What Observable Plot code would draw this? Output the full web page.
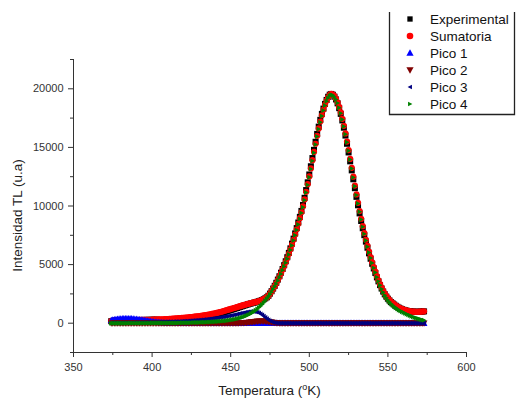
<!DOCTYPE html>
<html>
<head>
<meta charset="utf-8">
<script src="https://cdn.jsdelivr.net/npm/d3@7"></script>
<script src="https://cdn.jsdelivr.net/npm/@observablehq/plot@0.6"></script>
<style>
  html, body { margin: 0; padding: 0; background: #fff; }
  #chart { position: relative; width: 516px; height: 398px; }
</style>
</head>
<body>
<div id="chart"></div>
<script>
// ---- Data (temperature grid 374..573 K, 1 K step) ----
const temps = d3.range(374, 574);

const xMajor = [350, 400, 450, 500, 550, 600];
const xMinor = [375, 425, 475, 525, 575];
const yMajor = [0, 5000, 10000, 15000, 20000];
const yMinor = [-2500, 2500, 7500, 12500, 17500, 22500];

const seriesNames = ["Experimental", "Sumatoria", "Pico 1", "Pico 2", "Pico 3", "Pico 4"];
const seriesColors = ["#000000", "#ff0000", "#0000ff", "#800000", "#000080", "#008000"];

const experimental = [
  170, 195, 220, 230, 238, 245, 248, 252, 256, 258,
  258, 260, 262, 264, 266, 268, 270, 272, 273, 275,
  276, 278, 280, 282, 284, 286, 289, 292, 295, 298,
  250, 255, 260, 265, 270, 276, 282, 289, 296, 304,
  312, 321, 330, 340, 350, 361, 372, 384, 397, 410,
  424, 438, 453, 469, 485, 502, 520, 539, 559, 580,
  602, 625, 649, 674, 700, 727, 755, 785, 817, 850,
  886, 924, 964, 1005, 1046, 1088, 1130, 1172, 1215, 1258,
  1300, 1345, 1390, 1435, 1480, 1525, 1568, 1610, 1650, 1688,
  1725, 1760, 1796, 1834, 1876, 1924, 1980, 2045, 2120, 2210,
  2340, 2525, 2730, 2955, 3190, 3445, 3720, 4005, 4310, 4625,
  4950, 5285, 5630, 6000, 6385, 6790, 7215, 7660, 8115, 8590,
  9075, 9580, 10090, 10700, 11360, 12020, 12690, 13390, 14090, 14790,
  15480, 16150, 16770, 17350, 17860, 18310, 18710, 19050, 19320, 19500,
  19560, 19490, 19330, 19090, 18760, 18350, 17860, 17300, 16680, 16010,
  15310, 14570, 13810, 13040, 12280, 11520, 10780, 10060, 9370, 8720,
  8100, 7510, 6960, 6440, 5960, 5500, 5070, 4670, 4290, 3910,
  3570, 3250, 2960, 2700, 2470, 2270, 2090, 1940, 1800, 1690,
  1590, 1490, 1400, 1320, 1250, 1190, 1140, 1100, 1065, 1038,
  1015, 998, 986, 978, 973, 974, 979, 988, 998, 1008
];

const sumatoria = [
  180, 200, 215, 225, 235, 240, 245, 250, 255, 258,
  260, 262, 264, 266, 268, 270, 272, 274, 276, 278,
  280, 283, 286, 289, 292, 296, 300, 305, 310, 315,
  320, 326, 332, 338, 345, 352, 360, 368, 376, 385,
  394, 404, 414, 425, 436, 448, 460, 473, 486, 500,
  514, 529, 544, 560, 576, 593, 611, 630, 650, 671,
  693, 716, 740, 765, 791, 818, 846, 876, 908, 942,
  978, 1016, 1055, 1095, 1135, 1175, 1215, 1255, 1295, 1335,
  1375, 1415, 1455, 1495, 1535, 1575, 1612, 1648, 1682, 1715,
  1748, 1780, 1812, 1848, 1888, 1935, 1990, 2055, 2130, 2220,
  2330, 2510, 2710, 2930, 3160, 3410, 3680, 3960, 4260, 4570,
  4890, 5220, 5560, 5920, 6300, 6700, 7120, 7560, 8010, 8480,
  8960, 9460, 9960, 10560, 11210, 11860, 12520, 13210, 13910, 14610,
  15310, 15990, 16620, 17210, 17740, 18210, 18630, 18990, 19280, 19480,
  19560, 19510, 19370, 19150, 18840, 18450, 17980, 17440, 16840, 16190,
  15500, 14770, 14020, 13260, 12500, 11740, 10990, 10270, 9570, 8910,
  8280, 7680, 7120, 6590, 6100, 5630, 5190, 4780, 4400, 4010,
  3660, 3330, 3030, 2760, 2520, 2310, 2130, 1970, 1830, 1710,
  1600, 1500, 1410, 1330, 1260, 1200, 1150, 1110, 1075, 1045,
  1020, 1000, 990, 980, 975, 975, 980, 990, 1000, 1010
];

const pico1 = [
  250, 280, 305, 328, 347, 363, 376, 386, 393, 397,
  398, 396, 391, 383, 372, 358, 342, 324, 304, 283,
  261, 239, 217, 195, 174, 154, 135, 118, 102, 88,
  75, 64, 54, 45, 38, 32, 26, 22, 18, 15,
  12, 10, 8, 7, 5, 4, 4, 3, 2, 2,
  1, 1, 1, 1, 1, 0, 0, 0, 0, 0,
  0, 0, 0, 0, 0, 0, 0, 0, 0, 0,
  0, 0, 0, 0, 0, 0, 0, 0, 0, 0,
  0, 0, 0, 0, 0, 0, 0, 0, 0, 0,
  0, 0, 0, 0, 0, 0, 0, 0, 0, 0,
  0, 0, 0, 0, 0, 0, 0, 0, 0, 0,
  0, 0, 0, 0, 0, 0, 0, 0, 0, 0,
  0, 0, 0, 0, 0, 0, 0, 0, 0, 0,
  0, 0, 0, 0, 0, 0, 0, 0, 0, 0,
  0, 0, 0, 0, 0, 0, 0, 0, 0, 0,
  0, 0, 0, 0, 0, 0, 0, 0, 0, 0,
  0, 0, 0, 0, 0, 0, 0, 0, 0, 0,
  0, 0, 0, 0, 0, 0, 0, 0, 0, 0,
  0, 0, 0, 0, 0, 0, 0, 0, 0, 0,
  0, 0, 0, 0, 0, 0, 0, 0, 0, 0
];

const pico2 = [
  0, 0, 0, 0, 0, 0, 0, 0, 0, 0,
  0, 0, 0, 0, 0, 0, 0, 0, 0, 0,
  0, 0, 0, 0, 0, 0, 0, 0, 0, 0,
  0, 0, 0, 0, 0, 0, 0, 0, 0, 0,
  0, 0, 0, 0, 0, 0, 0, 0, 0, 0,
  0, 0, 0, 0, 0, 0, 0, 0, 0, 0,
  0, 0, 0, 0, 0, 0, 0, 0, 0, 0,
  0, 0, 0, 0, 0, 0, 0, 0, 0, 0,
  0, 10, 15, 22, 30, 40, 52, 66, 82, 99,
  116, 132, 147, 160, 170, 176, 178, 175, 167, 154,
  137, 116, 93, 70, 49, 31, 17, 8, 3, 1,
  0, 0, 0, 0, 0, 0, 0, 0, 0, 0,
  0, 0, 0, 0, 0, 0, 0, 0, 0, 0,
  0, 0, 0, 0, 0, 0, 0, 0, 0, 0,
  0, 0, 0, 0, 0, 0, 0, 0, 0, 0,
  0, 0, 0, 0, 0, 0, 0, 0, 0, 0,
  0, 0, 0, 0, 0, 0, 0, 0, 0, 0,
  0, 0, 0, 0, 0, 0, 0, 0, 0, 0,
  0, 0, 0, 0, 0, 0, 0, 0, 0, 0,
  0, 0, 0, 0, 0, 0, 0, 0, 0, 0
];

const pico3 = [
  20, 21, 22, 23, 24, 25, 26, 27, 28, 30,
  31, 33, 34, 36, 38, 40, 42, 44, 46, 49,
  51, 54, 57, 60, 63, 66, 69, 72, 75, 78,
  81, 84, 88, 92, 96, 100, 105, 110, 115, 120,
  126, 132, 138, 145, 152, 159, 167, 175, 183, 192,
  201, 211, 221, 232, 243, 255, 267, 280, 293, 307,
  321, 336, 352, 368, 385, 402, 420, 439, 458, 478,
  500, 523, 547, 572, 598, 624, 651, 678, 706, 734,
  765, 797, 829, 860, 890, 918, 944, 966, 984, 996,
  1000, 993, 972, 935, 880, 805, 712, 605, 492, 382,
  282, 197, 130, 81, 48, 27, 14, 7, 3, 1,
  0, 0, 0, 0, 0, 0, 0, 0, 0, 0,
  0, 0, 0, 0, 0, 0, 0, 0, 0, 0,
  0, 0, 0, 0, 0, 0, 0, 0, 0, 0,
  0, 0, 0, 0, 0, 0, 0, 0, 0, 0,
  0, 0, 0, 0, 0, 0, 0, 0, 0, 0,
  0, 0, 0, 0, 0, 0, 0, 0, 0, 0,
  0, 0, 0, 0, 0, 0, 0, 0, 0, 0,
  0, 0, 0, 0, 0, 0, 0, 0, 0, 0,
  0, 0, 0, 0, 0, 0, 0, 0, 0, 0
];

const pico4 = [
  2, 2, 2, 2, 2, 2, 3, 3, 3, 3,
  3, 4, 4, 4, 4, 5, 5, 5, 5, 6,
  6, 6, 7, 7, 8, 8, 9, 9, 10, 10,
  11, 12, 13, 14, 15, 16, 17, 18, 19, 21,
  22, 24, 25, 27, 29, 31, 33, 36, 38, 41,
  44, 47, 50, 54, 58, 62, 66, 71, 76, 81,
  87, 93, 99, 106, 113, 121, 129, 138, 148, 159,
  171, 184, 198, 213, 230, 248, 268, 290, 315, 342,
  372, 405, 440, 480, 525, 575, 630, 690, 755, 830,
  910, 1000, 1100, 1210, 1330, 1460, 1600, 1750, 1910, 2080,
  2260, 2450, 2650, 2870, 3100, 3350, 3620, 3900, 4200, 4510,
  4830, 5160, 5500, 5860, 6240, 6640, 7060, 7500, 7950, 8420,
  8900, 9400, 9900, 10500, 11150, 11800, 12460, 13150, 13850, 14550,
  15250, 15930, 16560, 17150, 17680, 18150, 18570, 18930, 19220, 19420,
  19500, 19450, 19310, 19090, 18780, 18390, 17920, 17380, 16780, 16130,
  15440, 14710, 13960, 13200, 12440, 11680, 10930, 10210, 9510, 8850,
  8220, 7620, 7060, 6530, 6040, 5570, 5130, 4720, 4330, 3930,
  3570, 3230, 2920, 2640, 2390, 2170, 1980, 1810, 1670, 1540,
  1420, 1320, 1220, 1130, 1050, 975, 905, 840, 775, 712,
  652, 595, 540, 488, 440, 395, 353, 314, 278, 245
];

// ---- Custom marker symbols (d3 symbol-type objects) ----
const triUp = {draw(ctx, size) { const a = Math.sqrt(size / Math.PI);
  ctx.moveTo(0, -a); ctx.lineTo(a * 0.95, a * 0.75); ctx.lineTo(-a * 0.95, a * 0.75); ctx.closePath(); }};
const triDown = {draw(ctx, size) { const a = Math.sqrt(size / Math.PI);
  ctx.moveTo(0, a); ctx.lineTo(a * 0.95, -a * 0.75); ctx.lineTo(-a * 0.95, -a * 0.75); ctx.closePath(); }};
const triLeft = {draw(ctx, size) { const a = Math.sqrt(size / Math.PI);
  ctx.moveTo(-a, 0); ctx.lineTo(a * 0.8, -a * 0.95); ctx.lineTo(a * 0.8, a * 0.95); ctx.closePath(); }};
const triRight = {draw(ctx, size) { const a = Math.sqrt(size / Math.PI);
  ctx.moveTo(a, 0); ctx.lineTo(-a * 0.8, -a * 0.95); ctx.lineTo(-a * 0.8, a * 0.95); ctx.closePath(); }};

const seriesValues = [experimental, sumatoria, pico1, pico2, pico3, pico4];
const seriesSymbols = ["square", "circle", triUp, triDown, triLeft, triRight];
const seriesR = [3.4, 3.1, 3.6, 3.6, 2.5, 2.6];
const legendSymbols = [d3.symbolSquare, d3.symbolCircle, triUp, triDown, triLeft, triRight];
const legendR = [3.0, 3.3, 3.8, 3.8, 2.4, 2.4];

const tables = seriesValues.map((vals, k) => temps.map((t, i) => ({T: t, v: vals[i], s: seriesNames[k]})));

const axisColor = "#333";

const marks = [
  Plot.ruleX(xMinor, {x: d => d, y1: () => -2500, y2: () => -2500, insetBottom: -3, stroke: axisColor}),
  Plot.ruleY(yMinor, {y: d => d, x1: () => 350, x2: () => 350, insetLeft: -3, stroke: axisColor}),
  ...tables.map((tbl, k) => Plot.dot(tbl, {
    x: "T", y: "v", r: seriesR[k], symbol: seriesSymbols[k],
    fill: seriesColors[k], stroke: "none"
  }))
];

const svg = Plot.plot({
  width: 516,
  height: 398,
  marginLeft: 73,
  marginRight: 50,
  marginTop: 59,
  marginBottom: 46,
  style: {background: "white", color: axisColor, fontFamily: "'Liberation Sans', Arial, sans-serif", fontSize: "11px", overflow: "visible"},
  x: {domain: [350, 600], ticks: xMajor, tickSize: 5, tickPadding: 6, tickFormat: d => String(d), label: null, line: true},
  y: {domain: [-2500, 22500], ticks: yMajor, tickSize: 5, tickPadding: 5, tickFormat: d => String(d), label: null, line: true},
  marks
});

document.getElementById("chart").appendChild(svg);

// ---- Axis titles and legend ----
const root = d3.select(svg);
const font = "'Liberation Sans', Arial, sans-serif";

root.append("text")
  .attr("transform", "translate(22,215.5) rotate(-90)")
  .attr("text-anchor", "middle")
  .attr("font-family", font).attr("font-size", "13.5px").attr("fill", "#222")
  .text("Intensidad TL (u.a)");

const xt = root.append("text")
  .attr("x", 269.5).attr("y", 395)
  .attr("text-anchor", "middle")
  .attr("font-family", font).attr("font-size", "13.5px").attr("fill", "#222");
xt.append("tspan").text("Temperatura (");
xt.append("tspan").attr("dy", -5).attr("font-size", "9px").text("o");
xt.append("tspan").attr("dy", 5).text("K)");

const lg = root.append("g").attr("text-anchor", "start");
lg.append("path")
  .attr("d", "M389.5,12 V114.5 H514.5 V12")
  .attr("fill", "none").attr("stroke", "#222").attr("stroke-width", 1.3);

seriesNames.forEach((name, k) => {
  const cy = 19 + k * 17;
  lg.append("path")
    .attr("transform", `translate(410,${cy})`)
    .attr("d", d3.symbol(legendSymbols[k], Math.PI * legendR[k] * legendR[k])())
    .attr("fill", seriesColors[k]);
  lg.append("text")
    .attr("x", 430).attr("y", cy + 4.8)
    .attr("text-anchor", "start")
    .attr("font-family", font).attr("font-size", "13.5px").attr("fill", "#111")
    .text(name);
});
</script>
</body>
</html>
